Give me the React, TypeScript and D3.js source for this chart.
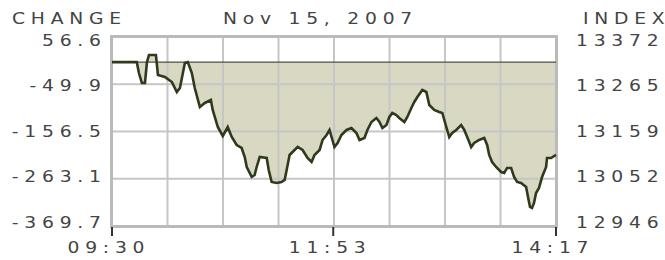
import React from "react";
import * as d3 from "d3";

// minutes after 09:30
const minutes = [0,16,17.4,19.3,21.3,22.6,23.9,28.4,29.7,34.2,
38.7,41.9,43.9,47.1,49,51.6,53.5,56.8,60,63.9,
65.1,68.4,71.6,74.8,77.4,80.6,83.8,85.8,87.1,90.3,
92.2,93.5,95.5,100,101.3,103.2,106.4,109.6,111.6,112.9,
114.8,118,120,123.2,126.4,129,130.9,134.2,136.1,138.7,
140.6,143.8,145.8,148.3,151.6,154.8,158,160,163.2,165.1,
167.7,170.9,172.9,174.8,177.4,179.3,181.2,183.8,185.7,189,
190.9,193.5,195.4,197.4,200.6,203.2,205.1,208.3,211.5,213.5,
216.1,218,219.9,222.5,225.7,227.7,229.6,232.2,234.1,237.3,
240.6,242.5,243.8,245.7,248.3,251.5,253.5,255.4,258,259.9,
261.9,264.4,267.7,268.9,270.2,271.5,272.8,274.1,276,278,
280.6,281.2,283.8,287];

const changes = [0,0,-24.6,-47.1,-47,0,16,16,-29,-33.6,
-44.9,-67.4,-58.4,-2,0,-24.6,-58.4,-101.3,-92.2,-85.5,
-108,-146.4,-166.7,-146.4,-169,-187,-193.7,-214,-236.6,-259,
-254.6,-236.6,-214,-216.3,-243.3,-270.4,-272.7,-270.4,-265.8,-243.3,
-209.5,-198.2,-191.5,-198.2,-216.3,-225.3,-209.5,-198.2,-175.7,-164.4,
-153.1,-191.5,-182.5,-164.4,-153.1,-148.6,-159.9,-175.7,-171.2,-153.1,
-135.1,-126.1,-135.1,-148.6,-141.9,-123.8,-114.8,-119.3,-126.1,-135.1,
-123.8,-103.5,-90,-78.7,-62.9,-67.4,-96.8,-108,-112.5,-114.8,
-146.4,-169,-159.9,-153.1,-141.9,-153.1,-169,-191.5,-182.5,-175.7,
-171.2,-187,-209.5,-225.3,-236.6,-247.9,-250.1,-238.8,-238.8,-259.1,
-270.4,-272.7,-281.7,-304.3,-326.8,-329,-317.8,-295.2,-283.9,-259.1,
-236.6,-216.3,-216.3,-209.5];

const changeTicks = [56.6, -49.9, -156.5, -263.1, -369.7];
const changeTickLabels = ["56.6", "-49.9", "-156.5", "-263.1", "-369.7"];
const indexTickLabels = ["13372", "13265", "13159", "13052", "12946"];
const timeTicks = [0, 143, 287];
const timeTickLabels = ["09:30", "11:53", "14:17"];
const gridDivisions = 8;
const title = "Nov 15, 2007";
const leftTitle = "CHANGE";
const rightTitle = "INDEX";

const W = 665, H = 260;
const L = 112, R = 556, T = 37, B = 226;
const SX = 1.25;
const FONT = "'DejaVu Sans', Verdana, sans-serif";
const TXT = "#444";

function WideText({ x, y, anchor = "start", children }: any) {
  return (
    <g transform={`translate(${x},${y}) scale(${SX},1)`}>
      <text x={0} y={0} textAnchor={anchor} fontFamily={FONT} fontSize={15}
        letterSpacing={4.6} fill={TXT}>{children}</text>
    </g>
  );
}

export default function App() {
  const xs = d3.scaleLinear().domain([0, 287]).range([L, R]);
  const ys = d3.scaleLinear().domain([-369.7, 56.6]).range([B, T]);
  const yLabel = d3.scaleLinear().domain([-369.7, 56.6]).range([227.5, 46]);
  const data = minutes.map((m, i) => ({ m, v: changes[i] }));
  const lineGen = d3.line<any>().x(d => xs(d.m)).y(d => ys(d.v));
  const areaGen = d3.area<any>().x(d => xs(d.m)).y0(ys(0)).y1(d => ys(d.v));
  const vgrid = d3.range(1, gridDivisions).map(i => (287 * i) / gridDivisions);
  const hgrid = changeTicks.slice(1, changeTicks.length - 1);

  return (
    <svg width={W} height={H} style={{ position: "absolute", left: 0, top: 0, background: "#fff" }}>
      <rect x={0} y={0} width={W} height={H} fill="#fff" />
      <path d={areaGen(data) || ""} fill="#d8d8c3" />
      {vgrid.map((g, i) => (
        <rect key={"v" + i} x={xs(g) - 1} y={T} width={2} height={B - T} fill="#c6c6c6" />
      ))}
      {hgrid.map((t, i) => (
        <rect key={"h" + i} x={L} y={ys(t) - 1} width={R - L} height={2} fill="#c6c6c6" />
      ))}
      <rect x={L - 2} y={T - 2} width={3} height={B - T + 3} fill="#bababa" />
      <rect x={R - 1} y={T - 2} width={3} height={B - T + 3} fill="#bababa" />
      <rect x={L - 2} y={T - 2} width={R - L + 4} height={3} fill="#bababa" />
      <rect x={L - 2} y={B - 1} width={R - L + 4} height={3} fill="#bababa" />
      <rect x={L} y={ys(0) - 0.6} width={R - L} height={1.3} fill="#555" />
      <path d={lineGen(data) || ""} fill="none" stroke="#2f3a1c" strokeWidth={2.6} strokeLinejoin="miter" />
      {timeTicks.map((t, i) => (
        <rect key={"t" + i} x={xs(t) - 1} y={B + 1} width={2} height={9} fill="#333" />
      ))}
      <WideText x={12} y={24}>{leftTitle}</WideText>
      <WideText x={223} y={24}>{title}</WideText>
      <WideText x={583} y={24}>{rightTitle}</WideText>
      {changeTicks.map((t, i) => (
        <WideText key={"l" + i} x={101 + 4.6 * SX} y={yLabel(t)} anchor="end">{changeTickLabels[i]}</WideText>
      ))}
      {changeTicks.map((t, i) => (
        <WideText key={"r" + i} x={576} y={yLabel(t)}>{indexTickLabels[i]}</WideText>
      ))}
      {timeTicks.map((t, i) => (
        <WideText key={"x" + i} x={xs(t) - 6 + 2.3 * SX} y={253} anchor="middle">{timeTickLabels[i]}</WideText>
      ))}
    </svg>
  );
}
